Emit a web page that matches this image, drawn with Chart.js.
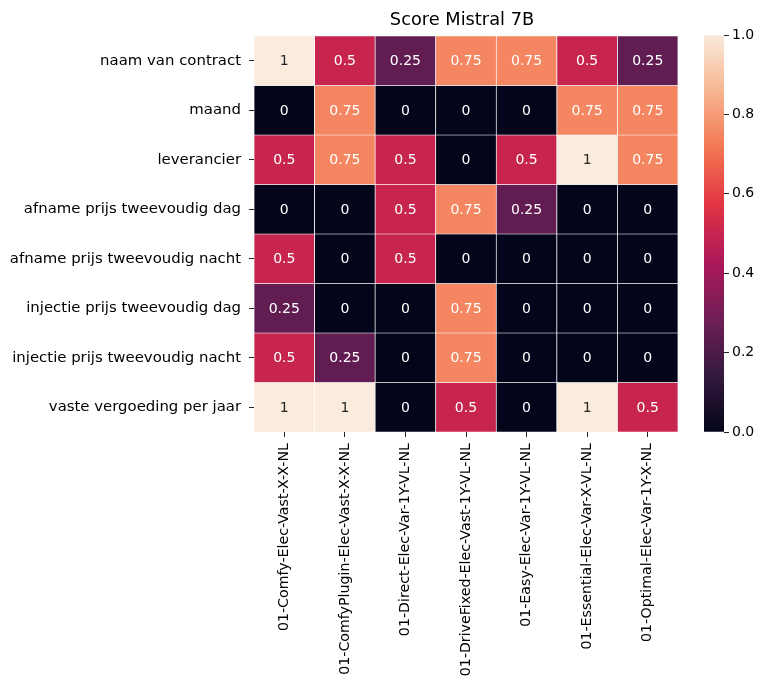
<!DOCTYPE html>
<html>
<head>
<meta charset="utf-8">
<script src="https://cdn.jsdelivr.net/npm/chart.js@4"></script>
<style>
  html, body { margin: 0; padding: 0; background: #fff; }
  #wrap { position: relative; width: 761px; height: 686px; }
  #heat { position: absolute; left: 0; top: 0; }
  #cbar { position: absolute; left: 704px; top: 0; }
</style>
</head>
<body>
<div id="wrap">
  <canvas id="heat" width="704" height="686"></canvas>
  <canvas id="cbar" width="57" height="686"></canvas>
</div>
<script>
const titleText = "Score Mistral 7B";

const rowLabels = [
  "naam van contract",
  "maand",
  "leverancier",
  "afname prijs tweevoudig dag",
  "afname prijs tweevoudig nacht",
  "injectie prijs tweevoudig dag",
  "injectie prijs tweevoudig nacht",
  "vaste vergoeding per jaar"
];

const colLabels = [
  "01-Comfy-Elec-Vast-X-X-NL",
  "01-ComfyPlugin-Elec-Vast-X-X-NL",
  "01-Direct-Elec-Var-1Y-VL-NL",
  "01-DriveFixed-Elec-Vast-1Y-VL-NL",
  "01-Easy-Elec-Var-1Y-VL-NL",
  "01-Essential-Elec-Var-X-VL-NL",
  "01-Optimal-Elec-Var-1Y-X-NL"
];

// one array per row, values per column
const naamVanContract   = [1, 0.5, 0.25, 0.75, 0.75, 0.5, 0.25];
const maand             = [0, 0.75, 0, 0, 0, 0.75, 0.75];
const leverancier       = [0.5, 0.75, 0.5, 0, 0.5, 1, 0.75];
const afnameDag         = [0, 0, 0.5, 0.75, 0.25, 0, 0];
const afnameNacht       = [0.5, 0, 0.5, 0, 0, 0, 0];
const injectieDag       = [0.25, 0, 0, 0.75, 0, 0, 0];
const injectieNacht     = [0.5, 0.25, 0, 0.75, 0, 0, 0];
const vasteVergoeding   = [1, 1, 0, 0.5, 0, 1, 0.5];

const scoreRows = [naamVanContract, maand, leverancier, afnameDag,
                   afnameNacht, injectieDag, injectieNacht, vasteVergoeding];

const colorbarTicks = [0, 0.2, 0.4, 0.6, 0.8, 1.0];

// approximate seaborn "rocket" colormap
const rocket = [
  [0.0,   [3, 5, 26]],
  [0.143, [53, 25, 62]],
  [0.286, [112, 31, 87]],
  [0.429, [173, 23, 89]],
  [0.571, [225, 51, 66]],
  [0.714, [243, 118, 81]],
  [0.857, [246, 180, 143]],
  [1.0,   [250, 235, 221]]
];

function rocketColor(v) {
  for (let i = 1; i < rocket.length; i++) {
    const [p1, c1] = rocket[i];
    const [p0, c0] = rocket[i - 1];
    if (v <= p1) {
      const t = (v - p0) / (p1 - p0);
      const c = c0.map((a, k) => Math.round(a + (c1[k] - a) * t));
      return `rgb(${c[0]},${c[1]},${c[2]})`;
    }
  }
  const c = rocket[rocket.length - 1][1];
  return `rgb(${c[0]},${c[1]},${c[2]})`;
}

const FONT = "'DejaVu Sans', sans-serif";
Chart.defaults.font.family = FONT;
Chart.defaults.color = "#000";

// cell labels + title
const cellText = {
  id: "cellText",
  afterDatasetsDraw(chart) {
    const ctx = chart.ctx;
    ctx.save();
    ctx.font = "14px " + FONT;
    ctx.textAlign = "center";
    ctx.textBaseline = "middle";
    chart.data.datasets.forEach((ds, r) => {
      const meta = chart.getDatasetMeta(r);
      meta.data.forEach((bar, c) => {
        const v = scoreRows[r][c];
        ctx.fillStyle = v > 0.8 ? "#262626" : "#fff";
        ctx.fillText(String(v), bar.x, (bar.y + bar.base) / 2 + 1);
      });
    });
    const a = chart.chartArea;
    ctx.fillStyle = "#000";
    ctx.font = "17.8px " + FONT;
    ctx.fillText(titleText, (a.left + a.right) / 2 - 4, 20);
    ctx.restore();
  }
};

new Chart(document.getElementById("heat"), {
  type: "bar",
  data: {
    labels: colLabels,
    datasets: scoreRows.map((row, r) => ({
      label: rowLabels[r],
      data: row.map(() => [r, r + 1]),
      backgroundColor: row.map(v => rocketColor(v)),
      borderColor: "#fff",
      borderWidth: 0.7,
      borderSkipped: false,
      grouped: false,
      barPercentage: 1,
      categoryPercentage: 1
    }))
  },
  options: {
    responsive: false,
    animation: false,
    devicePixelRatio: 1,
    layout: { padding: { top: 36, right: 26, left: 0, bottom: 0 } },
    plugins: { legend: { display: false }, tooltip: { enabled: false }, title: { display: false } },
    scales: {
      x: {
        type: "category",
        afterFit(scale) { scale.height = 254; },
        border: { display: false },
        grid: { display: true, drawOnChartArea: false, offset: false, tickLength: 5, color: "#222", tickWidth: 1 },
        ticks: { minRotation: 90, maxRotation: 90, autoSkip: false, padding: 6, font: { size: 14.2 }, color: "#000" }
      },
      y: {
        type: "linear",
        min: 0,
        max: rowLabels.length,
        reverse: true,
        afterFit(scale) { scale.width = 254; },
        afterBuildTicks(scale) { scale.ticks = rowLabels.map((_, i) => ({ value: i + 0.5 })); },
        border: { display: false },
        grid: { display: true, drawOnChartArea: false, tickLength: 5, color: "#222", tickWidth: 1 },
        ticks: {
          autoSkip: false,
          padding: 8,
          font: { size: 14.9 },
          color: "#000",
          callback: (v, i) => rowLabels[i]
        }
      }
    }
  },
  plugins: [cellText]
});

// colorbar
new Chart(document.getElementById("cbar"), {
  type: "bar",
  data: {
    labels: [""],
    datasets: [{
      data: [[0, 1]],
      borderWidth: 0,
      barPercentage: 1,
      categoryPercentage: 1,
      backgroundColor(context) {
        const a = context.chart.chartArea;
        if (!a) return "#000";
        const g = context.chart.ctx.createLinearGradient(0, a.bottom, 0, a.top);
        for (let i = 0; i <= 50; i++) g.addColorStop(i / 50, rocketColor(i / 50));
        return g;
      }
    }]
  },
  options: {
    responsive: false,
    animation: false,
    devicePixelRatio: 1,
    layout: { padding: { top: 35, bottom: 254, left: 0, right: 0 } },
    plugins: { legend: { display: false }, tooltip: { enabled: false } },
    scales: {
      x: { display: false },
      y: {
        position: "right",
        min: 0,
        max: 1,
        afterFit(scale) { scale.width = 37; },
        afterBuildTicks(scale) { scale.ticks = colorbarTicks.map(v => ({ value: v })); },
        border: { display: false },
        grid: { display: true, drawOnChartArea: false, tickLength: 5, color: "#222" },
        ticks: { padding: 3, font: { size: 14 }, color: "#000", callback: v => v.toFixed(1) }
      }
    }
  }
});
</script>
</body>
</html>
